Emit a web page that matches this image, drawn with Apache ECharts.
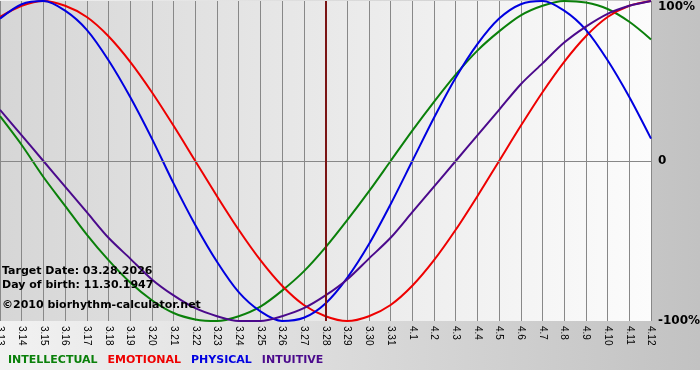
<!DOCTYPE html>
<html>
<head>
<meta charset="utf-8">
<script src="https://cdn.jsdelivr.net/npm/echarts@6/dist/echarts.min.js"></script>
<style>
html,body{margin:0;padding:0;background:#fff;}
#chart{width:700px;height:380px;}
</style>
</head>
<body>
<div id="chart"></div>
<script>
var days = ['3.13','3.14','3.15','3.16','3.17','3.18','3.19','3.20','3.21','3.22','3.23','3.24','3.25','3.26','3.27','3.28','3.29','3.30','3.31','4.1','4.2','4.3','4.4','4.5','4.6','4.7','4.8','4.9','4.10','4.11','4.12'];
var intellectual = [0.28,0.10,-0.10,-0.28,-0.46,-0.62,-0.76,-0.87,-0.95,-0.99,-1.00,-0.97,-0.91,-0.81,-0.69,-0.54,-0.37,-0.19,0.00,0.19,0.37,0.54,0.69,0.81,0.91,0.97,1.00,0.99,0.95,0.87,0.76];
var emotional = [0.90,0.97,1.00,0.97,0.90,0.78,0.62,0.43,0.22,0.00,-0.22,-0.43,-0.62,-0.78,-0.90,-0.97,-1.00,-0.97,-0.90,-0.78,-0.62,-0.43,-0.22,0.00,0.22,0.43,0.62,0.78,0.90,0.97,1.00];
var physical = [0.89,0.98,1.00,0.94,0.82,0.63,0.40,0.14,-0.14,-0.40,-0.63,-0.82,-0.94,-1.00,-0.98,-0.89,-0.73,-0.52,-0.27,0.00,0.27,0.52,0.73,0.89,0.98,1.00,0.94,0.82,0.63,0.40,0.14];
var intuitive = [0.32,0.16,0.00,-0.16,-0.32,-0.48,-0.61,-0.74,-0.84,-0.92,-0.97,-1.00,-1.00,-0.97,-0.92,-0.84,-0.74,-0.61,-0.48,-0.32,-0.16,0.00,0.16,0.32,0.48,0.61,0.74,0.84,0.92,0.97,1.00];
var yTicks = {'1':'100%','0':'0','-1':'-100%'};
var targetDay = '3.28';
var infoLines = ['Target Date: 03.28.2026','Day of birth: 11.30.1947','\u00a92010 biorhythm-calculator.net'];
var seriesNames = ['INTELLECTUAL','EMOTIONAL','PHYSICAL','INTUITIVE'];
var seriesColors = ['#0a800a','#ee0000','#0000e0','#4b0a8c'];
var seriesData = [intellectual, emotional, physical, intuitive];

var chart = echarts.init(document.getElementById('chart'));
var font = '"Liberation Sans", Arial, sans-serif';
var boldFont = '"DejaVu Sans", Verdana, sans-serif';

var series = seriesNames.map(function(n,i){
  return {
    name:n, type:'line', data:seriesData[i], smooth:0.3, symbol:'none',
    lineStyle:{color:seriesColors[i], width:2}, itemStyle:{color:seriesColors[i]},
    z:3, animation:false
  };
});
series[0].markLine = {
  silent:true, symbol:'none', animation:false, label:{show:false},
  data:[
    {yAxis:0, lineStyle:{color:'#888', width:1, type:'solid'}},
    {xAxis:targetDay, lineStyle:{color:'#7a1414', width:2, type:'solid'}}
  ]
};

var option = {
  animation:false,
  backgroundColor:{type:'linear',x:0,y:0,x2:1,y2:0,colorStops:[{offset:0,color:'#f2f2f2'},{offset:1,color:'#c2c2c2'}]},
  grid:{left:0, right:49, top:1, height:320, show:true, borderWidth:0, outerBoundsMode:'none', containLabel:false,
    backgroundColor:{type:'linear',x:0,y:0,x2:1,y2:0,colorStops:[{offset:0,color:'#d6d6d6'},{offset:1,color:'#fcfcfc'}]}},
  legend:{
    left:3, top:355, padding:0, itemWidth:0, itemHeight:0, itemGap:5, icon:'rect', selectedMode:false,
    textStyle:{fontFamily:boldFont, fontWeight:'bold', fontSize:11},
    data:seriesNames.map(function(n,i){return {name:n, textStyle:{color:seriesColors[i]}};})
  },
  xAxis:{
    type:'category', data:days, boundaryGap:false,
    axisLine:{show:true, lineStyle:{color:'#888', width:1}},
    axisTick:{show:true, length:4, interval:0, lineStyle:{color:'#888'}},
    splitLine:{show:true, interval:0, lineStyle:{color:'#888', width:1}},
    axisLabel:{interval:0, rotate:-90, margin:5, fontSize:10, fontFamily:font, color:'#000'}
  },
  yAxis:{
    type:'value', position:'right', min:-1, max:1, interval:1,
    axisLine:{show:false}, axisTick:{show:false}, splitLine:{show:false},
    axisLabel:{margin:7, fontSize:12, fontWeight:'bold', fontFamily:boldFont, color:'#000',
      verticalAlignMaxLabel:'top',
      formatter:function(v){return yTicks[String(v)];}}
  },
  graphic:[
    {type:'rect', left:0, top:370, shape:{width:700, height:10}, style:{fill:'#ffffff'}, z:-1, silent:true}
  ].concat(infoLines.map(function(t,i){
    return {type:'text', left:2, top:[266,280,300][i], z:100, silent:true,
      style:{text:t, fill:'#000', font:'bold 11px "DejaVu Sans", Verdana, sans-serif'}};
  })),
  series:series
};
chart.setOption(option);
</script>
</body>
</html>
